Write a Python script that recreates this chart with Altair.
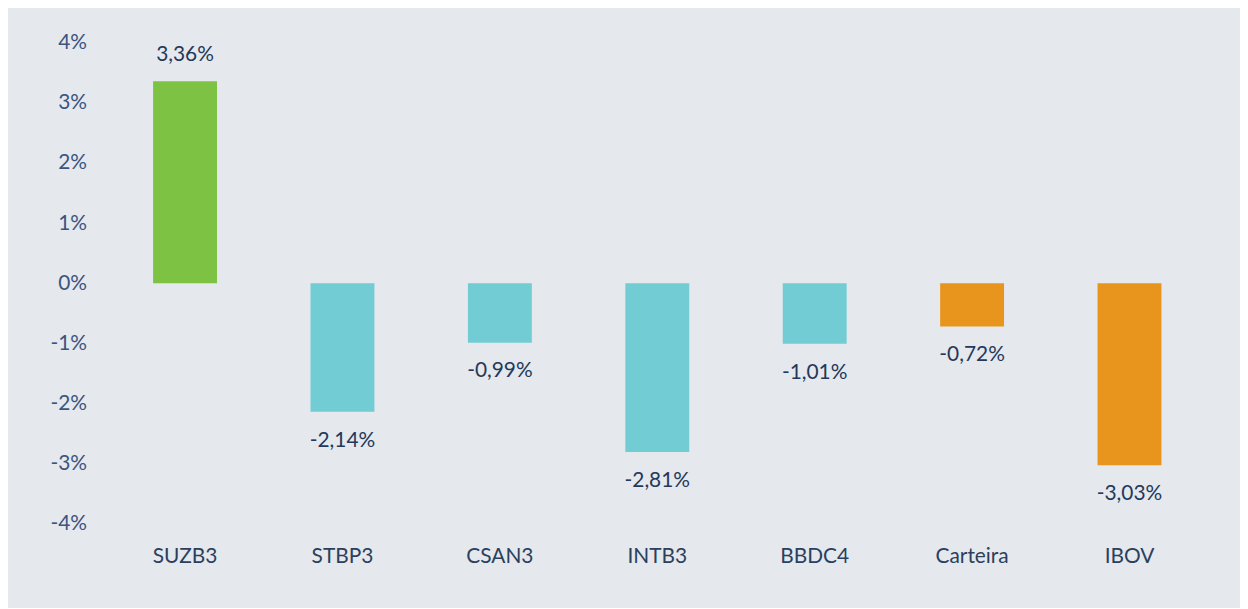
import altair as alt
import pandas as pd

tickers = ["SUZB3", "STBP3", "CSAN3", "INTB3", "BBDC4", "Carteira", "IBOV"]
values = [3.36, -2.14, -0.99, -2.81, -1.01, -0.72, -3.03]
groups = ["up", "down", "down", "down", "down", "ref", "ref"]
labels = ["3,36%", "-2,14%", "-0,99%", "-2,81%", "-1,01%", "-0,72%", "-3,03%"]

df = pd.DataFrame({"ticker": tickers, "value": values, "group": groups, "label": labels})

FONT = "Lato"
FS = 21
x = alt.X("ticker:N", sort=tickers, title=None,
          scale=alt.Scale(paddingInner=0.594, paddingOuter=0.297),
          axis=alt.Axis(labelAngle=0, ticks=False, domain=False, labelPadding=22,
                        labelFontSize=FS, labelColor="#2b3f5e", labelFont=FONT))
y = alt.Y("value:Q", title=None,
          scale=alt.Scale(domain=[-4, 4], nice=False),
          axis=alt.Axis(values=[-4, -3, -2, -1, 0, 1, 2, 3, 4], labelExpr="datum.value + '%'",
                        grid=False, ticks=False, domain=False, labelPadding=20,
                        labelFontSize=FS, labelColor="#3a5580", labelFont=FONT))

bars = alt.Chart(df).mark_bar().encode(
    x=x, y=y,
    color=alt.Color("group:N", legend=None,
                    scale=alt.Scale(domain=["up", "down", "ref"],
                                    range=["#7dc242", "#72ccd3", "#e8951e"])),
)

txt_pos = alt.Chart(df).transform_filter("datum.value >= 0").mark_text(
    dy=-26, baseline="middle", fontSize=FS, font=FONT, color="#24385a"
).encode(x=alt.X("ticker:N", sort=tickers), y="value:Q", text="label:N")

txt_neg = alt.Chart(df).transform_filter("datum.value < 0").mark_text(
    dy=29, baseline="middle", fontSize=FS, font=FONT, color="#24385a"
).encode(x=alt.X("ticker:N", sort=tickers), y="value:Q", text="label:N")

chart = alt.layer(bars, txt_pos, txt_neg).properties(
    width=1109, height=484,
    padding={"left": 99, "top": 33, "right": 32, "bottom": 83},
    autosize=alt.AutoSizeParams(type="none"),
    background="#e5e8ed",
).configure_view(stroke=None)

chart.save("out.html", embed_options={"renderer": "svg", "actions": False})
